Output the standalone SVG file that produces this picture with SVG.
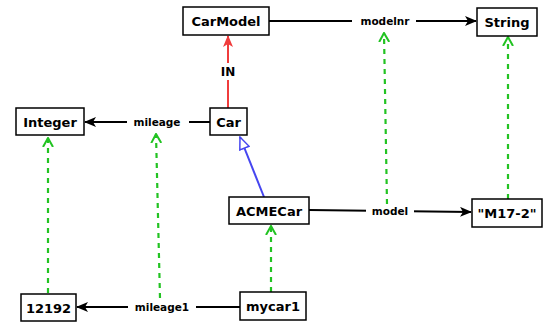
<svg xmlns="http://www.w3.org/2000/svg" width="547" height="323" viewBox="0 0 547 323">
  <defs>
    <style>
      .box { fill: #ffffff; stroke: #000000; stroke-width: 1.5; }
      .lbl { font-family: "DejaVu Sans", sans-serif; font-weight: bold; font-size: 13px; fill: #000; text-anchor: middle; dominant-baseline: central; }
      .elbl { font-family: "DejaVu Sans", sans-serif; font-weight: bold; font-size: 10.5px; fill: #000; text-anchor: middle; dominant-baseline: central; }
      .assoc { stroke: #000; stroke-width: 2; fill: none; marker-end: url(#blackArrow); }
      .inst { stroke: #22c322; stroke-width: 2.2; stroke-dasharray: 5 5; fill: none; marker-end: url(#greenOpen); }
      .bg { fill: #ffffff; }
    </style>
    <marker id="blackArrow" viewBox="0 0 12 10" refX="11" refY="5" markerWidth="12" markerHeight="10" markerUnits="userSpaceOnUse" orient="auto">
      <path d="M0,0 L12,5 L0,10 L3,5 Z" fill="#000"/>
    </marker>
    <marker id="greenOpen" viewBox="0 0 10 12" refX="9" refY="6" markerWidth="10" markerHeight="12" markerUnits="userSpaceOnUse" orient="auto">
      <path d="M0,1 L9,6 L0,11" fill="none" stroke="#22c322" stroke-width="2"/>
    </marker>
    <marker id="redArrow" viewBox="0 0 12 10" refX="11" refY="5" markerWidth="12" markerHeight="10" markerUnits="userSpaceOnUse" orient="auto">
      <path d="M0,0 L12,5 L0,10 L3,5 Z" fill="#f03c3c"/>
    </marker>
    <marker id="hollowTri" viewBox="0 0 14 12" refX="13" refY="6" markerWidth="14" markerHeight="12" markerUnits="userSpaceOnUse" orient="auto">
      <path d="M1,1 L13,6 L1,11 Z" fill="#fff" stroke="#4646f0" stroke-width="1.5"/>
    </marker>
  </defs>

  <!-- connectors -->
  <g id="connectors">
    <!-- instance-of links -->
    <path class="inst" d="M48,293 L48,138"/>
    <path class="inst" d="M160,298 L156,134"/>
    <path class="inst" d="M271,292 L271,226"/>
    <path class="inst" d="M387,204 L384,33"/>
    <path class="inst" d="M508,199 L508,37"/>

    <!-- associations -->
    <path class="assoc" d="M269,21 L476,21"/>
    <path class="assoc" d="M210,122 L85,122"/>
    <path class="assoc" d="M309,210 L471,212"/>
    <path class="assoc" d="M240,307 L77,307"/>

    <!-- IN link -->
    <path d="M228,108 L228,36" stroke="#f03c3c" stroke-width="2" fill="none" marker-end="url(#redArrow)"/>
    <!-- generalization -->
    <path d="M264,197 L240,137" stroke="#4646f0" stroke-width="2" fill="none" marker-end="url(#hollowTri)"/>

    <!-- edge labels -->
    <rect class="bg" x="352" y="14" width="64" height="15"/>
    <text class="elbl" x="385" y="21">modelnr</text>
    <rect class="bg" x="127" y="115" width="62" height="15"/>
    <text class="elbl" x="157" y="122">mileage</text>
    <rect class="bg" x="366" y="204" width="48" height="15"/>
    <text class="elbl" x="390" y="211">model</text>
    <rect class="bg" x="128" y="300" width="68" height="15"/>
    <text class="elbl" x="162" y="307">mileage1</text>
    <rect class="bg" x="216" y="63" width="24" height="17"/>
    <text class="lbl" x="228" y="72" style="font-size:12px">IN</text>
  </g>

  <g id="CarModel">
    <rect class="box" x="183" y="7" width="86" height="28"/>
    <text class="lbl" x="226" y="21">CarModel</text>
  </g>
  <g id="String">
    <rect class="box" x="477" y="8" width="60" height="28"/>
    <text class="lbl" x="507" y="22">String</text>
  </g>
  <g id="Integer">
    <rect class="box" x="16" y="108" width="68" height="27"/>
    <text class="lbl" x="50" y="122">Integer</text>
  </g>
  <g id="Car">
    <rect class="box" x="210" y="108" width="37" height="27"/>
    <text class="lbl" x="228.5" y="122">Car</text>
  </g>
  <g id="ACMECar">
    <rect class="box" x="229" y="197" width="80" height="27"/>
    <text class="lbl" x="269" y="211">ACMECar</text>
  </g>
  <g id="M17-2">
    <rect class="box" x="472" y="199" width="70" height="28"/>
    <text class="lbl" x="507" y="213">"M17-2"</text>
  </g>
  <g id="n12192">
    <rect class="box" x="21" y="294" width="55" height="27"/>
    <text class="lbl" x="48.5" y="308">12192</text>
  </g>
  <g id="mycar1">
    <rect class="box" x="240" y="292" width="66" height="28"/>
    <text class="lbl" x="273" y="306">mycar1</text>
  </g>
</svg>
